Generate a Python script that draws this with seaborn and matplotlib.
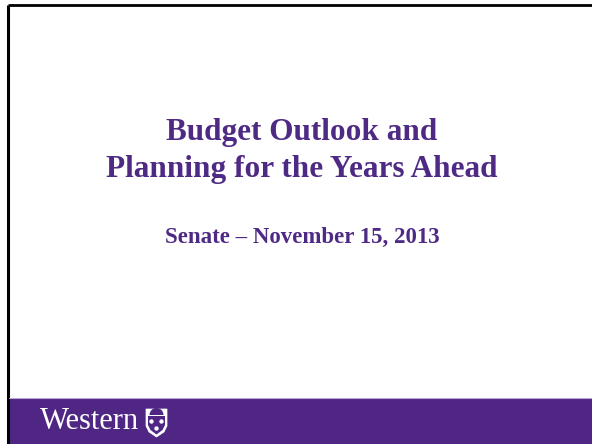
import matplotlib
matplotlib.use("Agg")
import matplotlib.pyplot as plt
import matplotlib.patches as mpatches
import seaborn as sns

# Slide content
title_lines = ["Budget Outlook and", "Planning for the Years Ahead"]
subtitle = "Senate \u2013 November 15, 2013"
footer_word = "Western"

purple = "#4F2683"
text_purple = "#4E2A84"

sns.set_theme(style="white")
plt.rcParams['font.family'] = ['Liberation Serif', 'DejaVu Serif']

fig = plt.figure(figsize=(5.92, 4.44), dpi=100)
ax = fig.add_axes([0, 0, 1, 1])
ax.set_xlim(0, 592)
ax.set_ylim(444, 0)
ax.axis("off")

# slide frame (top and left edges)
ax.plot([7.5, 592], [5, 5], color="black", lw=2.0, solid_capstyle="butt")
ax.plot([7.5, 7.5], [5, 444], color="black", lw=2.2, solid_capstyle="butt")

# footer band
ax.add_patch(mpatches.Rectangle((8.6, 398), 592, 46, color=purple, lw=0))
ax.plot([8.6, 592], [397.5, 397.5], color="#b8a6d4", lw=0.8)

# titles
for line, y in zip(title_lines, [140, 177]):
    ax.text(302, y, line, ha="center", va="baseline", fontsize=22.5,
            fontweight="bold", color=text_purple)
ax.text(302, 243, subtitle, ha="center", va="baseline", fontsize=16.5,
        fontweight="bold", color=text_purple)

# footer wordmark
ax.text(40, 429, footer_word, ha="left", va="baseline", fontsize=22,
        color="white")

# simple shield crest
shield = mpatches.Polygon([(146, 409), (167, 409), (167, 426), (164, 432),
                           (156.5, 437), (149, 432), (146, 426)],
                          closed=True, fc="white", ec="white", lw=0.5)
ax.add_patch(shield)
inner = mpatches.Polygon([(148, 416), (165, 416), (165, 425), (162.5, 430),
                          (156.5, 434.5), (150.5, 430), (148, 425)],
                         closed=True, fc=purple, lw=0)
ax.add_patch(inner)
ax.add_patch(mpatches.Wedge((156.5, 415), 7, 180, 360, fc=purple, lw=0))
for cx, cy in [(151.5, 421.5), (161.5, 421.5), (156.5, 428.5)]:
    ax.add_patch(mpatches.Circle((cx, cy), 2.2, fc="white", lw=0))

fig.savefig("out.png", dpi=100)
